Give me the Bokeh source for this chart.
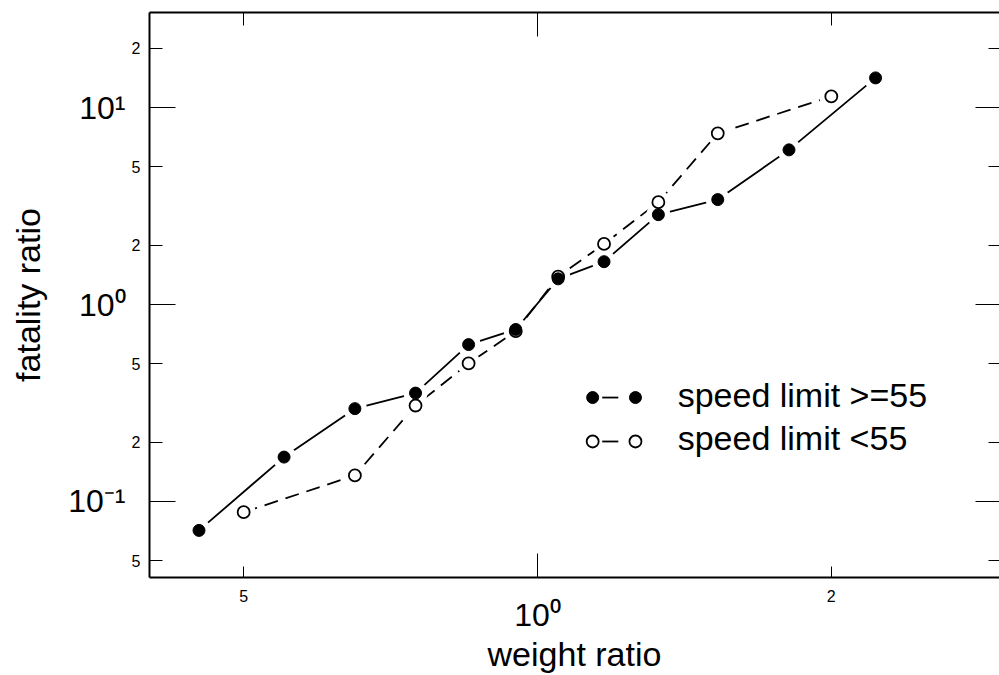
import math
from bokeh.plotting import figure
from bokeh.models import Label, LogAxis, FixedTicker, Range1d
from bokeh.embed import file_html
from bokeh.resources import INLINE

# ---- data ----
weight_hi = [0.45, 0.55, 0.65, 0.75, 0.85, 0.95, 1.05, 1.17, 1.33, 1.53, 1.81, 2.22]
fatal_hi = [0.0713, 0.168, 0.296, 0.355, 0.626, 0.747, 1.35, 1.65, 2.86, 3.41, 6.10, 14.15]

weight_lo = [0.50, 0.65, 0.75, 0.85, 0.95, 1.05, 1.17, 1.33, 1.53, 2.00]
fatal_lo = [0.0882, 0.1355, 0.307, 0.502, 0.732, 1.387, 2.03, 3.31, 7.40, 11.4]

series_labels = ["speed limit >=55", "speed limit <55"]

x_major = [1.0]
x_minor = [0.5, 2.0]
x_major_labels = ["10\u2070"]
x_minor_labels = ["5", "2"]

y_major = [0.1, 1.0, 10.0]
y_minor = [0.05, 0.2, 0.5, 2.0, 5.0, 20.0]
y_major_labels = ["10\u207b\u00b9", "10\u2070", "10\u00b9"]
y_minor_labels = ["5", "2", "5", "2", "5", "2"]

X_RANGE = (0.4004, 2.974)
Y_RANGE = (0.0411, 30.4)

FONT = "Liberation Sans"

p = figure(width=999, height=675, x_axis_type="log", y_axis_type="log",
           x_range=Range1d(*X_RANGE), y_range=Range1d(*Y_RANGE),
           output_backend="svg", toolbar_location=None,
           min_border_left=149, min_border_right=0,
           min_border_top=12, min_border_bottom=98)
p.background_fill_color = "white"
p.border_fill_color = "white"
p.outline_line_color = None
p.xgrid.visible = False
p.ygrid.visible = False


def ticks_only(ax, ticks, minor, major_len, minor_len, show_line=True):
    ax.ticker = FixedTicker(ticks=ticks, minor_ticks=minor)
    ax.major_tick_in = major_len
    ax.major_tick_out = 0
    ax.minor_tick_in = minor_len
    ax.minor_tick_out = 0
    ax.major_tick_line_color = "black"
    ax.major_tick_line_width = 1
    ax.minor_tick_line_color = "black"
    ax.minor_tick_line_width = 1
    ax.major_label_text_font_size = "0px"
    ax.major_label_text_alpha = 0
    ax.major_label_standoff = 0
    ax.axis_line_width = 2
    ax.axis_line_color = "black" if show_line else None


def labels_only(ax, ticks, labels, size, standoff):
    ax.ticker = FixedTicker(ticks=ticks, minor_ticks=[])
    ax.major_label_overrides = {v: t for v, t in zip(ticks, labels)}
    ax.major_label_text_font = FONT
    ax.major_label_text_font_size = size
    ax.major_label_text_color = "black"
    ax.major_label_standoff = standoff
    ax.major_tick_in = 0
    ax.major_tick_out = 0
    ax.minor_tick_in = 0
    ax.minor_tick_out = 0
    ax.major_tick_line_color = None
    ax.minor_tick_line_color = None
    ax.axis_line_color = None


# inner left axis: frame line, all ticks, the small "2"/"5" labels
yin = p.yaxis[0]
ticks_only(yin, y_minor, y_major, 13, 26)
yin.major_label_overrides = {v: t for v, t in zip(y_minor, y_minor_labels)}
yin.major_label_text_font = FONT
yin.major_label_text_font_size = "16px"
yin.major_label_text_alpha = 1
yin.major_label_text_color = "black"
yin.major_label_standoff = 9

# outer left axis: the big powers of ten, and the title
yout = LogAxis()
labels_only(yout, y_major, y_major_labels, "32px", 3)
yout.axis_label = "fatality ratio"
yout.axis_label_text_font = FONT
yout.axis_label_text_font_size = "34px"
yout.axis_label_text_font_style = "normal"
yout.axis_label_text_color = "black"
yout.axis_label_standoff = 18
p.add_layout(yout, "left")

# inner bottom axis
xin = p.xaxis[0]
ticks_only(xin, x_minor, x_major, 11, 24)
xin.major_label_overrides = {v: t for v, t in zip(x_minor, x_minor_labels)}
xin.major_label_text_font = FONT
xin.major_label_text_font_size = "16px"
xin.major_label_text_alpha = 1
xin.major_label_text_color = "black"
xin.major_label_standoff = 12

# outer bottom axis
xout = LogAxis()
labels_only(xout, x_major, x_major_labels, "32px", -8)
xout.axis_label = "weight ratio"
xout.axis_label_text_font = FONT
xout.axis_label_text_font_size = "34px"
xout.axis_label_text_font_style = "normal"
xout.axis_label_text_color = "black"
xout.axis_label_standoff = -1
p.add_layout(xout, "below")

top = LogAxis()
ticks_only(top, x_minor, x_major, 13, 24)
p.add_layout(top, "above")
right = LogAxis()
ticks_only(right, y_minor, y_major, 11, 24, show_line=False)
p.add_layout(right, "right")

# ---- series: lines, gaps round points, markers ----
p.line(weight_lo, fatal_lo, line_color="black", line_width=1.8, line_dash="14 8")
p.line(weight_hi, fatal_hi, line_color="black", line_width=1.8)
p.scatter(weight_lo, fatal_lo, size=24, fill_color="white", line_color=None)
p.scatter(weight_hi, fatal_hi, size=24, fill_color="white", line_color=None)
p.scatter(weight_lo, fatal_lo, size=12, fill_color="white", line_color="black", line_width=1.8)
p.scatter(weight_hi, fatal_hi, size=12, fill_color="black", line_color="black", line_width=1)

# ---- legend (drawn by hand, R style) ----
LEG_X = [1.139, 1.26]
LEG_DASH = [1.165, 1.21]
LEG_Y = [0.337, 0.2016]
p.scatter(LEG_X, [LEG_Y[0]] * 2, size=12, fill_color="black", line_color="black")
p.segment(x0=[LEG_DASH[0]], y0=[LEG_Y[0]], x1=[LEG_DASH[1]], y1=[LEG_Y[0]],
          line_color="black", line_width=1.8)
p.scatter(LEG_X, [LEG_Y[1]] * 2, size=12, fill_color="white", line_color="black", line_width=1.8)
p.segment(x0=[LEG_DASH[0]], y0=[LEG_Y[1]], x1=[LEG_DASH[1]], y1=[LEG_Y[1]],
          line_color="black", line_width=1.8)
for yv, t in zip(LEG_Y, series_labels):
    p.add_layout(Label(x=LEG_X[0], y=yv, x_offset=85, y_offset=3, text=t,
                       text_align="left", text_baseline="alphabetic",
                       text_font=FONT, text_font_size="34px", text_color="black"))

open("out.html", "w").write(file_html(p, INLINE))
